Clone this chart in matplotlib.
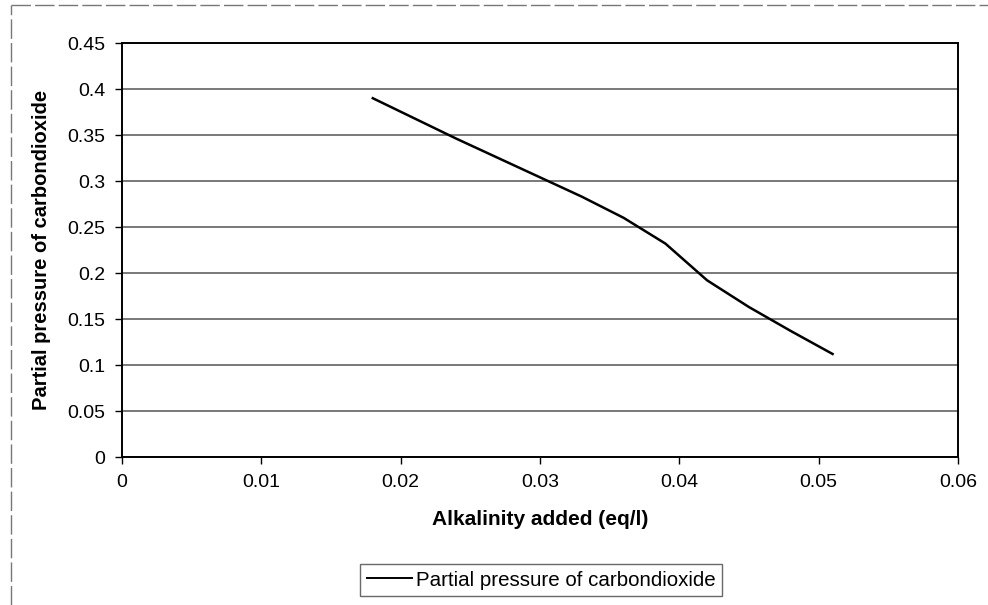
import matplotlib
matplotlib.use('Agg')
import matplotlib.pyplot as plt
from matplotlib.lines import Line2D

ALKALINITY = [0.018, 0.021, 0.024, 0.027, 0.030, 0.033, 0.036, 0.039, 0.042, 0.045, 0.048, 0.051]
PCO2 = [0.390, 0.368, 0.346, 0.325, 0.304, 0.283, 0.260, 0.232, 0.192, 0.163, 0.137, 0.112]

X_TICKS = [0, 0.01, 0.02, 0.03, 0.04, 0.05, 0.06]
Y_TICKS = [0, 0.05, 0.1, 0.15, 0.2, 0.25, 0.3, 0.35, 0.4, 0.45]
X_TICK_LABELS = ['0', '0.01', '0.02', '0.03', '0.04', '0.05', '0.06']
Y_TICK_LABELS = ['0', '0.05', '0.1', '0.15', '0.2', '0.25', '0.3', '0.35', '0.4', '0.45']

SERIES_NAME = 'Partial pressure of carbondioxide'

plt.rcParams['font.family'] = ['Liberation Sans', 'DejaVu Sans']

fig = plt.figure(figsize=(9.88, 6.05), dpi=100)
ax = fig.add_axes([0.1235, 0.2446, 0.8461, 0.6843])

ax.plot(ALKALINITY, PCO2, color='black', linewidth=1.8, label=SERIES_NAME)

ax.set_xlim(0, 0.06)
ax.set_ylim(0, 0.45)
ax.set_xticks(X_TICKS)
ax.set_xticklabels(X_TICK_LABELS)
ax.set_yticks(Y_TICKS)
ax.set_yticklabels(Y_TICK_LABELS)
ax.tick_params(labelsize=14, length=5, width=1, direction='out', colors='black', pad=7)

ax.grid(axis='y', color='#555555', linewidth=1.1)
ax.set_axisbelow(True)
for s in ax.spines.values():
    s.set_color('black')
    s.set_linewidth(1.4)

ax.set_xlabel('Alkalinity added (eq/l)', fontsize=15, fontweight='bold', labelpad=14)
ax.set_ylabel(SERIES_NAME, fontsize=14.5, fontweight='bold', labelpad=12)

leg = fig.legend(handles=[Line2D([], [], color='black', linewidth=1.4)], labels=[SERIES_NAME],
                 loc='center', bbox_to_anchor=(0.5476, 0.0413), fontsize=14.8,
                 frameon=True, fancybox=False, handlelength=2.2, handletextpad=0.2,
                 borderpad=0.3, borderaxespad=0)
leg.get_frame().set_edgecolor('#444444')
leg.get_frame().set_linewidth(1.0)

# scanned page frame (left and top edges only)
fig.add_artist(Line2D([11 / 988, 11 / 988], [0, 1 - 5 / 605], transform=fig.transFigure,
                      color='#777777', linewidth=1.0, linestyle=(0, (14, 3))))
fig.add_artist(Line2D([11 / 988, 1], [1 - 5 / 605, 1 - 5 / 605], transform=fig.transFigure,
                      color='#777777', linewidth=1.0, linestyle=(0, (14, 3))))

fig.savefig('out.png', dpi=100)
